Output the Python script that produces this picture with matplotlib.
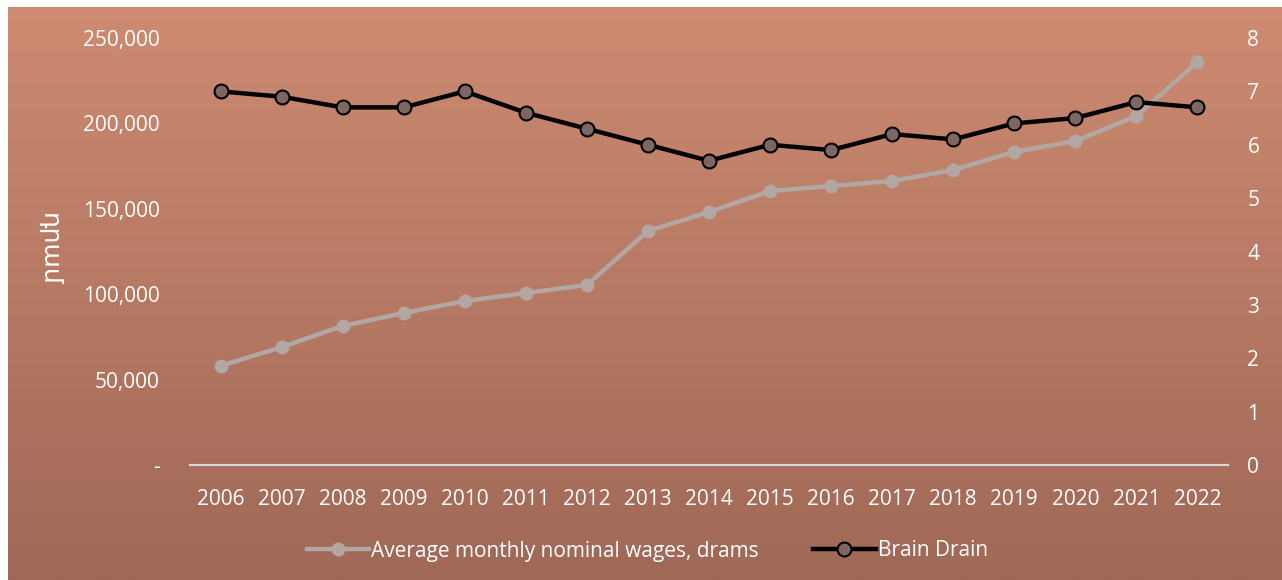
import numpy as np
import matplotlib
matplotlib.use("Agg")
import matplotlib.pyplot as plt
from matplotlib.ticker import FuncFormatter
from matplotlib.lines import Line2D

years = [str(y) for y in range(2006, 2023)]
wages = [58000, 69000, 81400, 89000, 96000, 100700, 105400, 137000, 148100,
         160400, 163300, 166300, 172700, 183300, 189700, 204300, 236000]
brain_drain = [7.0, 6.9, 6.7, 6.7, 7.0, 6.6, 6.3, 6.0, 5.7,
               6.0, 5.9, 6.2, 6.1, 6.4, 6.5, 6.8, 6.7]

plt.rcParams['font.family'] = ['Open Sans', 'DejaVu Sans']

fig = plt.figure(figsize=(12.82, 5.8), dpi=100)
fig.patch.set_facecolor('white')

# gradient background panel
bg = fig.add_axes([0.006, 0.0, 0.994, 0.988])
grad = np.linspace(0, 1, 256).reshape(-1, 1)
top = np.array([0xcd, 0x8b, 0x71]) / 255
bot = np.array([0xa0, 0x68, 0x57]) / 255
img = top[None, None, :] * (1 - grad[:, :, None]) + bot[None, None, :] * grad[:, :, None]
bg.imshow(img, aspect='auto', extent=[0, 1, 0, 1])
bg.set_axis_off()
bg.set_zorder(0)

ax = fig.add_axes([190 / 1282, 1 - 465 / 580, (1228 - 190) / 1282, (465 - 38) / 580])
ax.set_zorder(1)
ax.patch.set_alpha(0)
ax2 = ax.twinx()
ax2.set_zorder(2)
ax2.patch.set_alpha(0)

x = np.arange(len(years))
ax.plot(x, wages, color='#b3a7a4', lw=3.2, marker='o', ms=9,
        mfc='#b3a7a4', mec='#b3a7a4', solid_capstyle='round')
ax2.plot(x, brain_drain, color='black', lw=3.2, marker='o', ms=10,
         mfc='#7e6762', mec='black', mew=1.5)

ax.set_xlim(-0.5, len(years) - 0.5)
ax.set_ylim(0, 250000)
ax2.set_ylim(0, 8)
ax.set_yticks(range(0, 250001, 50000))
ax2.set_yticks(range(0, 9))
ax.yaxis.set_major_formatter(FuncFormatter(lambda v, p: '-' if v == 0 else f'{int(v):,}'))

ax.set_xticks(x)
ax.set_xticklabels(years)

for a in (ax, ax2):
    for s in a.spines.values():
        s.set_visible(False)
    a.tick_params(colors='white', labelsize=15, length=0)
ax.spines['bottom'].set_visible(True)
ax.spines['bottom'].set_color('#d9d9d9')
ax.spines['bottom'].set_linewidth(1.5)
ax.tick_params(axis='y', pad=22)
ax.tick_params(axis='x', pad=17)
ax2.tick_params(axis='y', pad=14)

ax.set_ylabel('դրամ', color='white', fontsize=18, rotation=270,
              family=['Noto Sans', 'DejaVu Sans'])
ax.yaxis.set_label_coords(-0.148, 0.505)

handles = [
    Line2D([], [], color='#b3a7a4', lw=3.2, marker='o', ms=9, mfc='#b3a7a4', mec='#b3a7a4'),
    Line2D([], [], color='black', lw=3.2, marker='o', ms=10, mfc='#7e6762', mec='black', mew=1.5),
]
fig.legend(handles, ['Average monthly nominal wages, drams', 'Brain Drain'],
           loc='center', bbox_to_anchor=(0.505, 0.05), ncol=2, frameon=False,
           fontsize=15, labelcolor='white', handlelength=3, handletextpad=0.1,
           columnspacing=2.6)

fig.savefig('out.png', dpi=100, facecolor=fig.get_facecolor())
